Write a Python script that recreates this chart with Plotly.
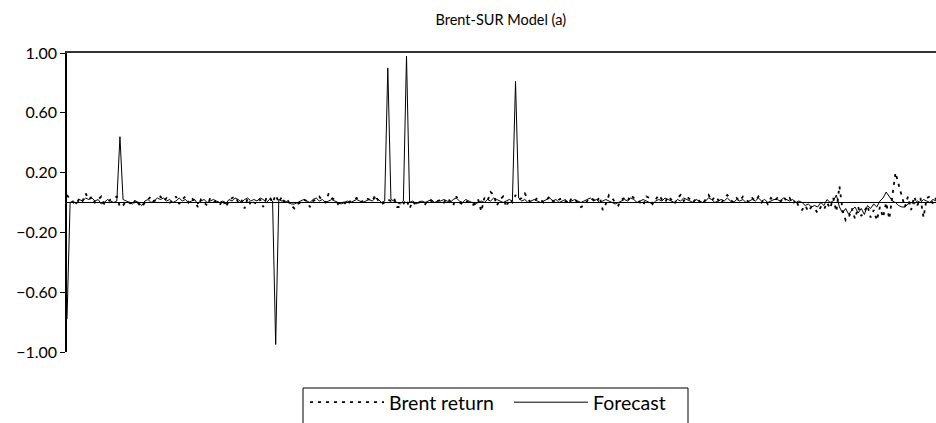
import plotly.graph_objects as go

title_text = "Brent-SUR Model (a)"
series_names = ["Brent return", "Forecast"]
y_ticks = [-1.0, -0.6, -0.2, 0.2, 0.6, 1.0]

forecast = [
    -0.78, 0.00, 0.01, -0.01, 0.02, 0.01, 0.03, 0.02, 0.03, 0.01, 0.02, -0.01, 0.00, 0.02, 0.01, 0.00, 0.01, 0.44, 0.02, 0.01,
    0.00, -0.01, 0.01, 0.00, -0.02, 0.01, 0.02, 0.00, 0.01, 0.03, 0.02, 0.03, 0.01, 0.02, 0.00, 0.01, 0.03, 0.01, 0.02, 0.00,
    0.01, 0.02, -0.01, 0.01, 0.02, 0.00, 0.01, 0.02, 0.01, 0.00, 0.01, -0.01, 0.02, 0.01, 0.03, 0.02, 0.00, 0.02, 0.03, 0.01,
    0.02, 0.01, 0.03, 0.02, 0.00, 0.02, 0.01, -0.95, 0.02, 0.01, 0.01, 0.00, -0.01, -0.01, 0.00, 0.01, 0.02, 0.01, 0.00, 0.02,
    0.03, 0.01, 0.02, 0.00, 0.01, 0.02, 0.01, 0.00, -0.01, 0.00, 0.01, 0.00, 0.01, 0.02, 0.01, 0.00, 0.01, 0.02, 0.01, 0.03,
    0.02, 0.00, 0.01, 0.90, 0.02, 0.01, 0.00, -0.01, 0.01, 0.98, 0.00, 0.01, -0.01, 0.00, 0.01, 0.00, 0.01, 0.02, 0.00, 0.01,
    0.01, 0.02, 0.01, 0.00, 0.02, 0.03, 0.01, 0.00, 0.02, 0.01, 0.00, -0.01, 0.00, 0.01, 0.00, 0.02, 0.01, 0.03, 0.02, 0.01,
    0.00, 0.01, 0.02, 0.01, 0.81, 0.03, 0.01, 0.02, 0.00, 0.01, 0.02, 0.01, 0.00, 0.01, 0.02, 0.03, 0.01, 0.02, 0.00, 0.01,
    0.02, 0.00, 0.01, 0.02, 0.01, 0.00, 0.01, 0.02, 0.03, 0.01, 0.02, 0.00, 0.01, 0.02, 0.01, 0.00, -0.01, 0.00, 0.01, 0.02,
    0.01, 0.03, 0.02, 0.00, 0.01, 0.02, 0.01, 0.00, -0.01, 0.01, 0.02, 0.01, 0.03, 0.02, 0.01, 0.00, 0.02, 0.01, 0.03, 0.02,
    0.01, 0.00, 0.02, 0.01, 0.00, 0.01, 0.03, 0.02, 0.00, 0.01, 0.02, 0.01, 0.03, 0.01, 0.00, 0.02, 0.01, 0.02, 0.00, 0.01,
    0.02, 0.01, 0.03, 0.01, 0.02, 0.00, 0.01, 0.02,
    0.02, 0.01, 0.03, 0.02, 0.01, 0.02, 0.00, 0.01, 0.00, -0.02, -0.01, -0.03, -0.02, -0.03, 0.00, -0.02, 0.02, 0.00, 0.01, 0.05,
    -0.03, -0.07, -0.04, -0.08, -0.05, -0.03, -0.07, -0.04, -0.08, -0.02, -0.04, -0.01, -0.03, 0.01, 0.03, 0.07, 0.04, 0.01, 0.00, -0.02,
    -0.03, -0.03, -0.01, 0.00, -0.01, 0.01, 0.00, 0.02, 0.01, 0.00, 0.02, 0.01,
]

brent = [
    0.05, 0.02, 0.00, -0.01, 0.03, 0.01, 0.06, 0.02, 0.04, 0.00, 0.02, 0.04, -0.01, 0.00, 0.02, 0.03, 0.04, -0.03, -0.02, 0.01,
    0.00, -0.02, 0.02, -0.01, -0.03, 0.00, 0.02, 0.04, 0.01, 0.02, 0.04, 0.01, 0.03, 0.00, 0.01, 0.04, -0.01, 0.02, 0.04, 0.00,
    0.03, 0.01, -0.03, 0.02, 0.00, -0.02, 0.03, 0.01, 0.00, -0.02, 0.02, -0.03, 0.01, 0.03, 0.04, 0.00, 0.02, -0.04, 0.03, -0.02,
    0.00, -0.01, 0.02, -0.03, 0.03, 0.04, 0.00, 0.05, 0.00, 0.04, -0.01, 0.01, -0.02, -0.04, -0.01, 0.00, 0.02, 0.01, -0.03, 0.01,
    0.02, 0.04, 0.01, 0.00, 0.06, 0.03, 0.02, -0.01, 0.01, 0.00, -0.02, 0.01, 0.02, 0.03, 0.00, 0.01, 0.03, 0.02, 0.01, 0.05,
    0.01, -0.01, 0.00, 0.02, 0.01, 0.03, -0.03, -0.03, -0.01, 0.02, -0.04, 0.01, -0.02, 0.00, 0.01, -0.01, 0.02, 0.01, 0.00, 0.01,
    0.02, 0.00, 0.03, 0.01, -0.02, 0.04, 0.00, -0.01, 0.01, 0.00, -0.02, -0.01, 0.02, -0.06, 0.03, 0.01, 0.07, 0.05, -0.02, 0.02,
    0.04, -0.03, 0.02, 0.00, 0.05, 0.02, 0.03, 0.06, 0.02, 0.00, 0.01, 0.03, 0.02, 0.00, 0.02, 0.04, 0.01, 0.00, 0.02, 0.03,
    0.01, -0.01, 0.03, 0.02, 0.00, -0.03, -0.02, 0.01, 0.03, 0.02, 0.00, 0.04, -0.05, -0.01, 0.05, 0.03, 0.00, -0.02, 0.02, 0.03,
    0.01, 0.05, 0.03, 0.02, 0.00, -0.02, 0.04, 0.03, -0.01, 0.02, 0.05, 0.02, 0.00, 0.04, 0.02, -0.01, 0.03, 0.05, 0.01, 0.04,
    0.02, 0.00, 0.03, 0.01, -0.01, 0.02, 0.05, 0.01, 0.04, 0.02, -0.01, 0.03, 0.05, 0.02, 0.00, 0.03, 0.01, 0.04, 0.02, 0.00,
    0.03, 0.01, 0.04, 0.00, 0.02, -0.01, 0.03, 0.01,
    0.03, 0.00, 0.04, 0.01, 0.03, -0.01, 0.02, -0.03, -0.05, -0.02, -0.06, -0.03, -0.04, -0.07, -0.03, -0.05, 0.00, -0.04, 0.03, -0.06,
    0.11, -0.05, -0.12, -0.10, -0.04, -0.11, -0.03, -0.09, -0.06, -0.02, -0.10, -0.05, -0.12, -0.03, -0.10, 0.00, -0.11, 0.05, 0.20, 0.12,
    0.05, -0.03, 0.04, -0.05, 0.04, -0.02, 0.03, -0.10, 0.03, 0.04, -0.01, 0.03,
]

periods = list(range(len(forecast)))

font_family = "Lato, 'Open Sans', sans-serif"

W, H = 936, 423
ML, MR, MT, MB = 67, 0, 53, 71
PW, PH = W - ML - MR, H - MT - MB


def px_x(p):
    return (p - ML) / PW


def px_y(p):
    return (H - MB - p) / PH


fig = go.Figure()
fig.add_trace(go.Scatter(
    x=periods, y=brent, mode="lines", name=series_names[0], legend="legend",
    line=dict(color="black", width=1.8, dash="3px,5px"),
))
fig.add_trace(go.Scatter(
    x=periods, y=forecast, mode="lines", name=series_names[1], legend="legend2",
    line=dict(color="black", width=1),
))

legend_common = dict(orientation="h", yanchor="top", xanchor="left",
                     borderwidth=0, bgcolor="rgba(0,0,0,0)",
                     font=dict(size=19.5, family=font_family, color="black"),
                     itemwidth=74)

fig.update_layout(
    width=W, height=H,
    margin=dict(l=ML, r=MR, t=MT, b=MB, autoexpand=False),
    paper_bgcolor="white", plot_bgcolor="white",
    font=dict(family=font_family, color="black", size=16),
    title=dict(text=title_text, x=0.535, xanchor="center", y=1 - 20 / H,
               yanchor="middle", yref="container",
               font=dict(size=14.5, family=font_family, color="black")),
    showlegend=True,
    legend=dict(x=px_x(305), y=px_y(383), **legend_common),
    legend2=dict(x=px_x(509), y=px_y(383), **legend_common),
    shapes=[dict(type="rect", xref="paper", yref="paper",
                 x0=px_x(303), x1=px_x(688), y0=px_y(440), y1=px_y(388),
                 line=dict(color="black", width=1), fillcolor="rgba(0,0,0,0)")],
    hovermode=False,
)
fig.update_xaxes(
    range=[0, len(forecast) - 1], side="top", showline=True, linecolor="#333333",
    linewidth=1.5, showgrid=False, zeroline=False, ticks="", showticklabels=False,
)
fig.update_yaxes(
    range=[-1, 1], tickvals=y_ticks, tickformat=".2f", showline=True,
    linecolor="black", linewidth=1.5, ticks="outside", ticklen=5, tickcolor="black",
    showgrid=False, zeroline=True, zerolinecolor="black", zerolinewidth=1,
)

fig.write_html("out.html")
